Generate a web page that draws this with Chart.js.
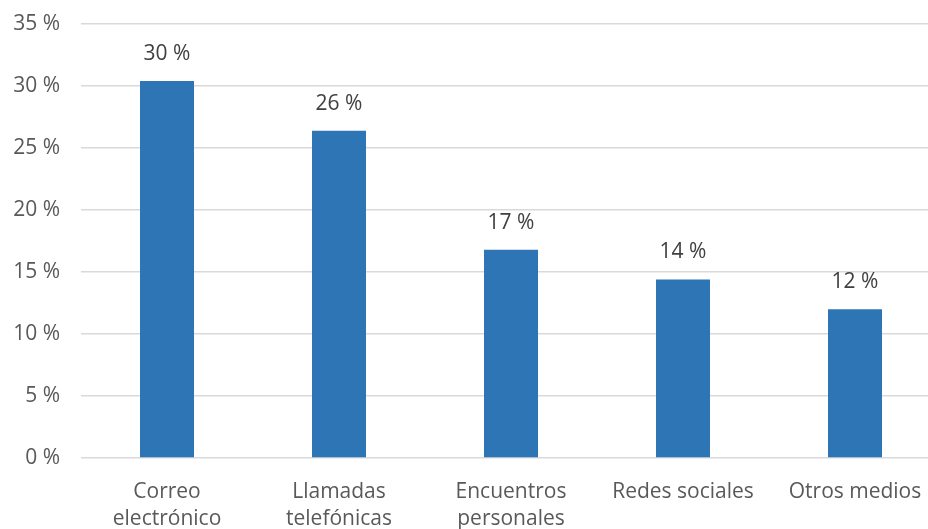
<!DOCTYPE html>
<html>
<head>
<meta charset="utf-8">
<script src="https://cdn.jsdelivr.net/npm/chart.js@4/dist/chart.umd.min.js"></script>
<style>
  html, body { margin: 0; padding: 0; background: #fff; overflow: hidden; }
  #wrap { width: 941px; height: 529px; }
</style>
</head>
<body>
<div id="wrap"><canvas id="myBarChart"></canvas></div>
<script>
const categories = [
    ['Correo', 'electrónico'],
    ['Llamadas', 'telefónicas'],
    ['Encuentros', 'personales'],
    'Redes sociales',
    'Otros medios'
];
const shares = [30.4, 26.4, 16.8, 14.4, 12.0];
const shareLabels = ['30 %', '26 %', '17 %', '14 %', '12 %'];

const textColor = '#595959';
const fontFamily = '"Open Sans", "Liberation Sans", sans-serif';

// draws the value above each bar
const valueLabels = {
    id: 'valueLabels',
    afterDatasetsDraw(chart) {
        const ctx = chart.ctx;
        const meta = chart.getDatasetMeta(0);
        ctx.save();
        ctx.fillStyle = '#404040';
        ctx.font = '21px ' + fontFamily;
        ctx.textAlign = 'center';
        ctx.textBaseline = 'middle';
        meta.data.forEach(function (bar, i) {
            ctx.fillText(shareLabels[i], bar.x, bar.y - 27);
        });
        ctx.restore();
    }
};

document.addEventListener('DOMContentLoaded', function () {
    const ctx = document.getElementById('myBarChart').getContext('2d');
    new Chart(ctx, {
        type: 'bar',
        data: {
            labels: categories,
            datasets: [{
                data: shares,
                backgroundColor: '#2E75B6',
                borderWidth: 0,
                barPercentage: 0.314,
                categoryPercentage: 1
            }]
        },
        options: {
            responsive: true,
            maintainAspectRatio: false,
            animation: false,
            layout: { padding: { top: 24, left: 0, right: 0, bottom: 0 } },
            plugins: {
                legend: { display: false },
                tooltip: { enabled: false }
            },
            scales: {
                x: {
                    grid: { display: false },
                    border: { display: false },
                    ticks: {
                        color: textColor,
                        font: { family: fontFamily, size: 21, lineHeight: 1.29 },
                        padding: 12,
                        maxRotation: 0
                    },
                    afterFit: function (scale) {
                        scale.height = 71;
                        scale.paddingLeft = 0;
                        scale.paddingRight = 0;
                    }
                },
                y: {
                    min: 0,
                    max: 35,
                    ticks: {
                        stepSize: 5,
                        color: textColor,
                        font: { family: fontFamily, size: 21 },
                        padding: 21,
                        callback: function (v) { return v + ' %'; }
                    },
                    grid: { color: '#D9D9D9', lineWidth: 1.5, drawTicks: false },
                    border: { display: false },
                    afterFit: function (scale) {
                        scale.width = 81;
                        scale.paddingTop = 0;
                        scale.paddingBottom = 0;
                    }
                }
            }
        },
        plugins: [valueLabels]
    });
});
</script>
</body>
</html>
